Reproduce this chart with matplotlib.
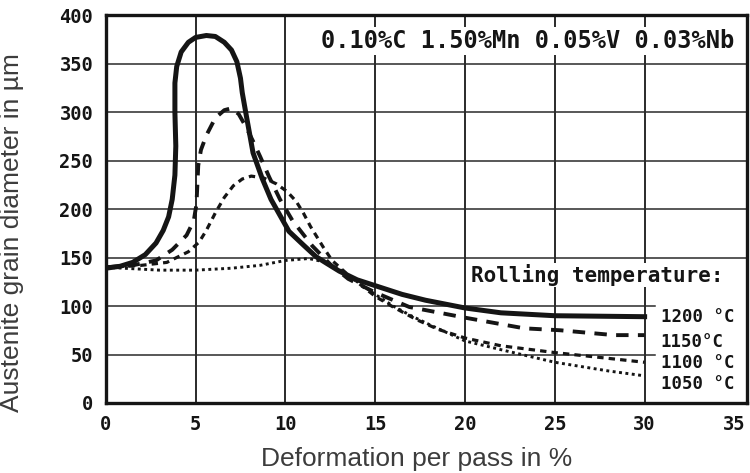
import matplotlib
matplotlib.use('Agg')
import matplotlib.pyplot as plt

# Austenite grain size vs deformation per pass, 0.10%C 1.50%Mn 0.05%V 0.03%Nb
temps = ['1200 °C', '1150°C', '1100 °C', '1050 °C']

x_1200 = [0, 0.8, 1.5, 2.2, 2.8, 3.2, 3.5, 3.7, 3.85, 3.9, 3.85, 3.85, 3.95, 4.2, 4.6,
          5.0, 5.6, 6.1, 6.6, 7.0, 7.3, 7.5, 7.6, 7.8, 8.2, 8.7, 9.2, 10.2, 11.0, 11.7,
          12.3, 13.0, 14.0, 15.0, 16.5, 17.8, 20, 22, 25, 30]
y_1200 = [139, 141, 145, 153, 165, 178, 192, 210, 235, 265, 300, 330, 347, 362, 372,
          377, 379, 378, 372, 364, 352, 335, 320, 299, 258, 232, 210, 177, 163, 151,
          144, 136, 127, 121, 112, 106, 98, 93, 90, 89]

x_1150 = [0, 1.5, 2.8, 3.7, 4.5, 4.9, 5.05, 5.1, 5.15, 5.3, 5.6, 6.1, 6.6, 7.0, 7.4,
          7.8, 8.2, 8.6, 9.1, 9.7, 10.4, 11.5, 12.5, 13.5, 15, 16.9, 18.6, 20, 23.3,
          25.3, 28.3, 30]
y_1150 = [140, 142, 147, 158, 173, 188, 205, 225, 245, 261, 276, 294, 302, 304, 298,
          285, 270, 254, 233, 210, 188, 162, 143, 128, 114, 99, 93, 88, 77,
          75, 70, 70]

x_1100 = [0, 2, 3.4, 4.6, 5.2, 5.6, 6.1, 6.6, 7.1, 7.6, 8.1, 8.8, 9.5, 10.1, 10.6,
          11.0, 11.4, 12.1, 12.6, 13.5, 15, 16, 17.3, 18.5, 20, 22, 25, 28, 30]
y_1100 = [140, 142, 145, 156, 166, 178, 196, 212, 224, 231, 234, 232, 226, 218, 208,
          196, 182, 161, 147, 132, 110, 99, 86, 76, 67, 59, 52, 46, 42]

x_1050 = [0, 2, 3, 5, 7, 8.6, 10, 11.3, 12.3, 13, 14, 15, 16, 17, 18, 20, 22, 25, 28, 30]
y_1050 = [140, 138, 137, 137, 139, 142, 147, 149, 145, 138, 125, 112, 100, 90, 81, 64,
          55, 42, 33, 28]

x_ticks = [0, 5, 10, 15, 20, 25, 30, 35]
y_ticks = [0, 50, 100, 150, 200, 250, 300, 350, 400]

ink = '#151515'
tick_font = dict(family=['DejaVu Sans Mono'], weight='bold', size=13.5)
label_font = dict(family=['Liberation Sans', 'DejaVu Sans'], size=19, color='#3c3c3c')

fig = plt.figure(figsize=(7.5, 4.73), dpi=100)
ax = fig.add_axes([0.141, 0.148, 0.855, 0.820])
ax.set_xlim(0, 35.7)
ax.set_ylim(0, 400)

# grid: the 50 and 100 lines stop short of the temperature labels
for y in y_ticks[1:]:
    xend = 30.6 if y in (50, 100) else 35.7
    ax.plot([0, xend], [y, y], color='#2a2a2a', lw=1.1, zorder=1)
for x in x_ticks[1:-1]:
    ax.axvline(x, color='#2a2a2a', lw=1.4, zorder=1)

ax.plot(x_1200, y_1200, color=ink, lw=3.6, zorder=3, solid_joinstyle='round')
ax.plot(x_1150, y_1150, color=ink, lw=2.8, dashes=(3.2, 2.4), zorder=3)
ax.plot(x_1100, y_1100, color=ink, lw=2.3, dashes=(2.0, 1.6), zorder=3)
ax.plot(x_1050, y_1050, color=ink, lw=2.1, dashes=(1.0, 1.2), zorder=3)

ax.set_xticks(x_ticks)
ax.set_yticks(y_ticks)
ax.set_xticklabels([str(v) for v in x_ticks], **tick_font)
ax.set_yticklabels([str(v) for v in y_ticks], **tick_font)
ax.tick_params(length=0, pad=9, colors=ink)
for s in ax.spines.values():
    s.set_linewidth(2.4)
    s.set_color(ink)

ax.text(35.0, 373, '0.10%C 1.50%Mn 0.05%V 0.03%Nb', ha='right', va='center',
        family=['DejaVu Sans Mono'], weight='bold', size=17, color=ink, zorder=4,
        bbox=dict(facecolor='white', edgecolor='none', pad=1.5))
ax.text(34.4, 132, 'Rolling temperature:', ha='right', va='center',
        family=['DejaVu Sans Mono'], weight='bold', size=15, color=ink, zorder=4,
        bbox=dict(facecolor='white', edgecolor='none', pad=1.0))

label_y = [89, 63, 41, 20]
for name, ly in zip(temps, label_y):
    ax.text(30.9, ly, name, ha='left', va='center', family=['DejaVu Sans Mono'],
            weight='bold', size=12.5, color=ink, zorder=4)

ax.set_xlabel('Deformation per pass in %', **label_font)
ax.set_ylabel('Austenite grain diameter in µm', **label_font)
ax.xaxis.set_label_coords(0.485, -0.113)
ax.yaxis.set_label_coords(-0.128, 0.44)

fig.savefig('out.png', dpi=100)
